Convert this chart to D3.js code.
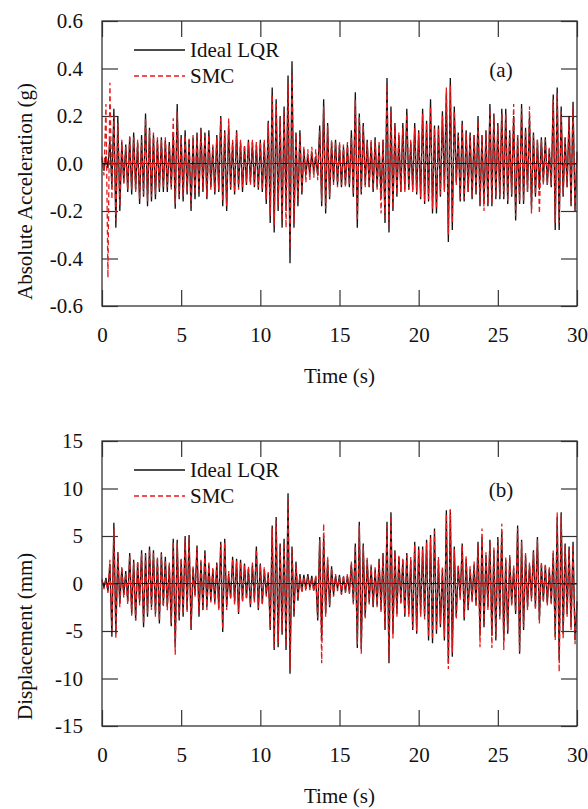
<!DOCTYPE html>
<html>
<head>
    <title>Ideal LQR vs SMC response</title>
    <script src="https://d3js.org/d3.v7.min.js"></script>
    <style>
        body { margin: 0; background: #fff; }
        text { font-family: "Liberation Serif", "Times New Roman", serif; fill: #111; }
        .frame { fill: none; stroke: #333; stroke-width: 1.3; }
        .axis path { display: none; }
        .axis line { stroke: #333; stroke-width: 1.2; }
        .axis text { font-size: 21px; }
        .lqr { fill: none; stroke: #111; stroke-width: 1.3; }
        .smc { fill: none; stroke: #e31a1c; stroke-width: 1.3; stroke-dasharray: 5,3; }
    </style>
</head>
<body>
<svg width="588" height="809"></svg>
<script>
// sampling step of the peaks (s): 8 half cycles per second
var tStep = 0.125;

var xTicks = [0, 5, 10, 15, 20, 25, 30];
var accTicks = [-0.6, -0.4, -0.2, 0, 0.2, 0.4, 0.6];
var dispTicks = [-15, -10, -5, 0, 5, 10, 15];
var legendNames = ["Ideal LQR", "SMC"];

// (a) absolute acceleration (g), one row per second
var accLQR = [
  0.02,-0.03,0.03,-0.02,0.10,-0.10,0.23,-0.27,
  0.20,-0.20,0.09,-0.08,0.08,-0.12,0.11,-0.13,
  0.13,-0.11,0.09,-0.17,0.12,-0.14,0.21,-0.18,
  0.15,-0.16,0.12,-0.15,0.10,-0.12,0.11,-0.12,
  0.10,-0.12,0.09,-0.10,0.13,-0.19,0.25,-0.15,
  0.12,-0.16,0.14,-0.13,0.10,-0.20,0.11,-0.15,
  0.13,-0.14,0.15,-0.12,0.13,-0.15,0.14,-0.10,
  0.07,-0.13,0.12,-0.12,0.20,-0.18,0.14,-0.20,
  0.16,-0.11,0.09,-0.13,0.14,-0.10,0.09,-0.12,
  0.07,-0.09,0.10,-0.08,0.09,-0.10,0.08,-0.11,
  0.10,-0.12,0.09,-0.17,0.18,-0.25,0.32,-0.29,
  0.27,-0.20,0.20,-0.27,0.24,-0.20,0.37,-0.42,
  0.43,-0.27,0.13,-0.18,0.14,-0.13,0.06,-0.05,
  0.04,-0.05,0.05,-0.04,0.03,-0.05,0.16,-0.18,
  0.27,-0.21,0.17,-0.15,0.09,-0.08,0.10,-0.09,
  0.08,-0.10,0.07,-0.09,0.08,-0.10,0.14,-0.14,
  0.30,-0.27,0.21,-0.13,0.17,-0.09,0.10,-0.10,
  0.09,-0.12,0.11,-0.10,0.08,-0.14,0.10,-0.25,
  0.36,-0.29,0.24,-0.20,0.17,-0.14,0.12,-0.12,
  0.17,-0.11,0.23,-0.11,0.09,-0.11,0.17,-0.13,
  0.14,-0.15,0.23,-0.17,0.18,-0.16,0.27,-0.21,
  0.16,-0.21,0.16,-0.14,0.22,-0.11,0.30,-0.33,
  0.36,-0.28,0.24,-0.08,0.13,-0.16,0.18,-0.16,
  0.14,-0.12,0.13,-0.15,0.12,-0.13,0.20,-0.18,
  0.12,-0.17,0.14,-0.18,0.25,-0.18,0.21,-0.15,
  0.17,-0.15,0.23,-0.15,0.23,-0.17,0.14,-0.14,
  0.20,-0.24,0.12,-0.17,0.25,-0.17,0.15,-0.12,
  0.20,-0.19,0.13,-0.14,0.10,-0.11,0.11,-0.08,
  0.11,-0.09,0.06,-0.10,0.29,-0.28,0.32,-0.28,
  0.24,-0.14,0.11,-0.10,0.20,-0.18,0.26,-0.20,
  0.05
];
var accSMC = [
  0.03,-0.05,0.25,-0.48,0.34,-0.15,0.20,-0.24,
  0.17,-0.18,0.10,-0.09,0.07,-0.11,0.12,-0.11,
  0.11,-0.12,0.10,-0.15,0.10,-0.13,0.19,-0.16,
  0.14,-0.14,0.13,-0.13,0.11,-0.11,0.10,-0.10,
  0.11,-0.10,0.08,-0.11,0.19,-0.17,0.22,-0.14,
  0.11,-0.14,0.12,-0.12,0.11,-0.18,0.12,-0.13,
  0.12,-0.12,0.14,-0.11,0.12,-0.14,0.12,-0.11,
  0.08,-0.12,0.11,-0.11,0.19,-0.16,0.13,-0.18,
  0.19,-0.10,0.10,-0.12,0.13,-0.11,0.10,-0.10,
  0.08,-0.08,0.09,-0.09,0.10,-0.09,0.09,-0.10,
  0.09,-0.11,0.10,-0.15,0.17,-0.22,0.29,-0.26,
  0.25,-0.18,0.19,-0.24,0.22,-0.27,0.34,-0.36,
  0.38,-0.25,0.13,-0.16,0.12,-0.12,0.07,-0.08,
  0.06,-0.07,0.07,-0.06,0.06,-0.07,0.14,-0.16,
  0.24,-0.19,0.16,-0.14,0.10,-0.09,0.09,-0.10,
  0.09,-0.09,0.08,-0.10,0.09,-0.09,0.11,-0.13,
  0.27,-0.24,0.20,-0.12,0.16,-0.10,0.09,-0.10,
  0.10,-0.11,0.10,-0.11,0.09,-0.21,0.10,-0.23,
  0.33,-0.26,0.22,-0.19,0.16,-0.13,0.13,-0.12,
  0.15,-0.12,0.21,-0.11,0.10,-0.12,0.15,-0.12,
  0.13,-0.14,0.21,-0.16,0.17,-0.15,0.24,-0.19,
  0.15,-0.19,0.15,-0.13,0.20,-0.12,0.32,-0.30,
  0.33,-0.25,0.22,-0.09,0.12,-0.15,0.17,-0.15,
  0.13,-0.12,0.12,-0.14,0.12,-0.12,0.18,-0.17,
  0.12,-0.20,0.13,-0.17,0.23,-0.17,0.20,-0.14,
  0.16,-0.14,0.21,-0.14,0.21,-0.16,0.13,-0.13,
  0.25,-0.22,0.12,-0.16,0.23,-0.16,0.14,-0.12,
  0.24,-0.21,0.12,-0.13,0.10,-0.21,0.10,-0.09,
  0.10,-0.09,0.07,-0.09,0.27,-0.25,0.30,-0.25,
  0.22,-0.13,0.11,-0.10,0.19,-0.17,0.24,-0.19,
  0.04
];

// (b) displacement (mm), one row per second
var dispLQR = [
  0.3,-0.4,0.6,-0.8,2.1,-5.6,6.4,-5.3,
  3.3,-2.1,1.6,-1.2,1.3,-1.9,3.2,-3.2,
  2.5,-3.9,2.2,-2.0,3.5,-4.6,3.2,-3.5,
  3.9,-2.5,3.5,-3.2,2.6,-4.2,3.3,-2.3,
  2.8,-2.5,2.0,-4.5,4.7,-6.7,4.6,-3.9,
  2.5,-3.5,5.0,-2.8,5.1,-4.9,1.6,-1.2,
  4.0,-3.5,2.3,-2.8,3.5,-2.5,2.0,-1.8,
  1.5,-2.0,2.2,-2.6,4.4,-5.1,4.7,-2.5,
  1.0,-1.5,2.8,-2.0,2.6,-3.2,2.5,-1.8,
  2.1,-1.5,1.6,-2.5,2.0,-1.8,3.9,-2.8,
  2.1,-2.1,1.5,-1.2,1.1,-4.9,6.1,-7.0,
  7.0,-6.7,4.2,-5.4,4.7,-7.0,9.5,-9.5,
  3.9,-3.5,2.3,-1.8,1.0,-0.8,0.9,-0.6,
  1.0,-0.5,0.8,-0.7,0.7,-3.9,4.9,-6.0,
  5.0,-3.2,2.5,-2.5,1.8,-1.2,0.8,-0.6,
  0.9,-1.1,0.7,-0.9,0.8,-1.0,2.1,-2.0,
  4.2,-6.8,6.5,-6.9,4.2,-3.5,2.5,-2.0,
  1.8,-2.5,1.5,-2.3,2.6,-2.8,3.2,-4.9,
  6.5,-8.4,7.5,-5.3,3.5,-3.2,2.8,-2.0,
  2.5,-3.5,3.2,-3.2,2.5,-4.9,4.4,-5.3,
  3.9,-3.2,3.9,-3.5,4.6,-6.0,5.1,-6.3,
  5.8,-5.3,2.5,-4.6,1.5,-6.0,7.7,-8.4,
  7.8,-7.7,3.9,-3.5,1.8,-1.5,4.2,-3.9,
  2.6,-2.8,1.5,-1.8,2.0,-2.2,4.4,-5.5,
  4.9,-4.6,3.0,-2.5,4.6,-5.5,3.5,-6.0,
  4.9,-3.5,5.5,-6.0,2.5,-5.3,2.8,-2.1,
  1.6,-3.2,6.1,-7.4,4.6,-4.9,3.0,-2.5,
  2.0,-1.6,3.5,-2.5,4.9,-3.9,2.0,-1.8,
  1.9,-2.1,1.5,-2.0,3.2,-5.6,7.0,-8.0,
  7.5,-5.3,4.2,-3.2,3.9,-4.6,4.4,-6.0,
  -2.0
];
var dispSMC = [
  0.5,-0.6,0.4,-1.0,2.5,-5.0,5.8,-5.8,
  3.3,-2.5,1.8,-1.5,1.1,-2.2,3.0,-3.4,
  2.2,-3.9,2.4,-2.3,3.2,-4.2,3.0,-3.2,
  3.6,-2.8,3.2,-3.5,2.8,-3.9,3.1,-2.5,
  2.5,-2.8,2.2,-4.2,4.4,-7.5,4.3,-3.6,
  2.7,-3.2,4.6,-3.0,4.8,-4.6,1.8,-1.4,
  3.8,-3.2,2.5,-2.6,3.2,-2.8,2.2,-2.0,
  1.7,-2.2,2.0,-2.8,4.1,-4.8,4.4,-2.8,
  1.3,-1.7,2.6,-2.2,2.4,-3.0,2.3,-2.0,
  1.9,-1.7,1.8,-2.3,2.2,-2.0,3.6,-2.6,
  2.0,-2.3,1.7,-1.4,1.2,-4.6,5.8,-6.7,
  6.6,-6.3,4.0,-5.1,4.4,-6.6,8.9,-9.0,
  3.5,-3.2,2.0,-1.6,0.8,-1.0,0.7,-0.8,
  0.8,-0.7,0.6,-0.9,0.9,-3.6,4.6,-8.4,
  6.3,-3.5,2.8,-2.3,1.6,-1.4,1.0,-0.8,
  0.7,-1.2,0.9,-1.0,1.0,-1.1,2.3,-2.2,
  4.0,-6.4,6.1,-7.4,4.0,-3.8,2.7,-2.2,
  2.0,-2.3,1.7,-2.5,2.4,-3.0,3.0,-4.6,
  6.1,-7.9,7.1,-5.8,3.3,-3.5,3.0,-2.2,
  2.7,-3.3,3.0,-3.5,2.8,-4.6,4.1,-5.0,
  3.6,-3.5,3.6,-3.8,4.3,-5.6,4.8,-5.9,
  5.5,-5.0,2.8,-4.3,1.8,-5.6,7.3,-9.0,
  7.8,-7.3,3.6,-3.8,2.0,-1.7,4.0,-3.6,
  2.9,-2.6,1.8,-2.0,2.3,-2.5,4.1,-6.7,
  5.8,-4.3,3.3,-2.8,4.4,-6.8,3.8,-5.6,
  4.6,-3.8,6.3,-7.0,2.8,-5.0,3.0,-2.4,
  1.9,-3.0,5.8,-7.2,4.4,-4.6,3.2,-2.8,
  2.2,-1.9,3.3,-2.8,4.6,-4.2,2.3,-2.0,
  2.1,-2.3,1.8,-2.3,3.5,-6.0,7.5,-9.3,
  7.2,-5.8,4.0,-3.5,3.6,-4.9,4.1,-6.4,
  -1.5
];

var svg = d3.select("svg");
var left = 102, width = 475, height = 285;

function panel(top, lqr, smc, yTicks, yFmt, yTitle, tag) {
    var x = d3.scaleLinear().domain([0, 30]).range([0, width]);
    var y = d3.scaleLinear().domain([yTicks[0], yTicks[yTicks.length - 1]]).range([height, 0]);

    var g = svg.append("g").attr("transform", "translate(" + left + "," + top + ")");

    g.append("g").attr("class", "axis").attr("transform", "translate(0," + height + ")")
        .call(d3.axisBottom(x).tickValues(xTicks).tickSizeInner(-16).tickSizeOuter(0).tickPadding(21));
    g.append("g").attr("class", "axis")
        .call(d3.axisTop(x).tickValues(xTicks).tickSizeInner(-16).tickSizeOuter(0).tickFormat(""));
    g.append("g").attr("class", "axis")
        .call(d3.axisLeft(y).tickValues(yTicks).tickSizeInner(-16).tickSizeOuter(0).tickPadding(19).tickFormat(yFmt));
    g.append("g").attr("class", "axis").attr("transform", "translate(" + width + ",0)")
        .call(d3.axisRight(y).tickValues(yTicks).tickSizeInner(-16).tickSizeOuter(0).tickFormat(""));

    // zero reference line
    g.append("line").attr("x1", 0).attr("x2", width)
        .attr("y1", y(0)).attr("y2", y(0))
        .attr("stroke", "#111").attr("stroke-width", 1.1);

    var line = d3.line()
        .x(function(d, i) { return x(i * tStep); })
        .y(function(d) { return y(d); });

    g.append("path").datum(lqr).attr("class", "lqr").attr("d", line);
    g.append("path").datum(smc).attr("class", "smc").attr("d", line);

    g.append("rect").attr("class", "frame").attr("width", width).attr("height", height);

    // legend
    var lg = g.append("g");
    lg.selectAll("line").data(legendNames).enter().append("line")
        .attr("class", function(d, i) { return i ? "smc" : "lqr"; })
        .attr("x1", 32).attr("x2", 83)
        .attr("y1", function(d, i) { return 29 + i * 26; })
        .attr("y2", function(d, i) { return 29 + i * 26; });
    lg.selectAll("text").data(legendNames).enter().append("text")
        .attr("x", 88)
        .attr("y", function(d, i) { return 36 + i * 26; })
        .style("font-size", "21px")
        .text(function(d) { return d; });

    g.append("text").attr("x", 399).attr("y", 56)
        .attr("text-anchor", "middle").style("font-size", "21px").text(tag);

    g.append("text").attr("x", width / 2).attr("y", height + 77)
        .attr("text-anchor", "middle").style("font-size", "21px").text("Time (s)");

    // y title starts just above the lower frame edge
    g.append("text")
        .attr("transform", "translate(" + (-70) + "," + (height - 6) + ") rotate(-90)")
        .attr("text-anchor", "start").style("font-size", "21px").text(yTitle);
}

panel(21, accLQR, accSMC, accTicks, function(d) { return d.toFixed(1); },
      "Absolute Acceleration (g)", "(a)");
panel(441, dispLQR, dispSMC, dispTicks, function(d) { return String(d); },
      "Displacement (mm)", "(b)");
</script>
</body>
</html>
